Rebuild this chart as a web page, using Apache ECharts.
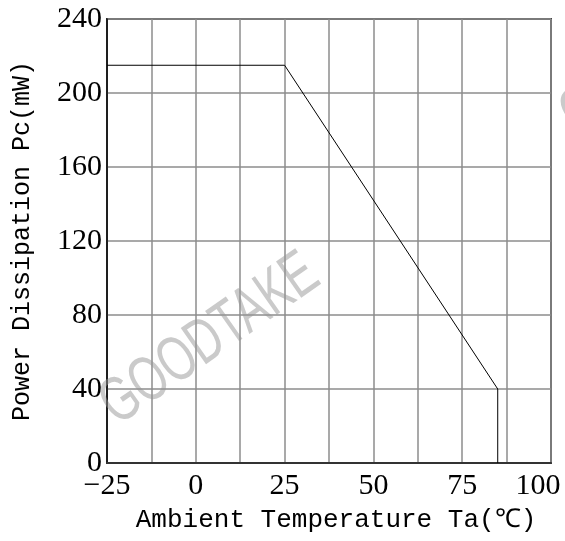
<!DOCTYPE html>
<html>
<head>
<meta charset="utf-8">
<script src="https://cdn.jsdelivr.net/npm/echarts@6/dist/echarts.min.js"></script>
<style>
  html, body { margin: 0; padding: 0; background: #fff; }
  #chart { width: 565px; height: 541px; }
</style>
</head>
<body>
<div id="chart"></div>
<script>
// derating curve
var tempC = [-25, 25, 85, 85];
var powerMw = [215, 215, 40, 0];

var xMin = -25, xMax = 100, xStep = 12.5;
var yMin = 0, yMax = 240, yStep = 40;
var xLabelValues = [-25, 0, 25, 50, 75, 100];

var xTitle = 'Ambient Temperature Ta(\u2103)';
var yTitle = 'Power Dissipation Pc(mW)';

var pts = tempC.map(function (t, i) { return [t, powerMw[i]]; });

var wmStyle = {
    fontFamily: 'Liberation Sans', fontSize: 64,
    fill: 'rgba(150,150,150,0.5)', align: 'center', verticalAlign: 'middle'
};

var chart = echarts.init(document.getElementById('chart'));
chart.setOption({
    animation: false,
    backgroundColor: '#fff',
    grid: {
        left: 107, right: 14, top: 19, bottom: 78,
        show: true, borderColor: '#444', borderWidth: 2
    },
    xAxis: {
        type: 'value',
        min: xMin, max: xMax, interval: xStep,
        name: xTitle,
        nameLocation: 'middle',
        nameGap: 44,
        nameTextStyle: { fontFamily: 'Liberation Mono', fontSize: 26, color: '#000', padding: [0, 0, 0, 14] },
        axisLine: { lineStyle: { color: '#333', width: 2 } },
        axisTick: { show: false },
        axisLabel: {
            fontFamily: 'Liberation Serif', fontSize: 30, color: '#000', margin: 8,
            formatter: function (v) {
                if (xLabelValues.indexOf(v) < 0) return '';
                var s = v < 0 ? '\u2212' + Math.abs(v) : String(v);
                return v === xMax ? '{m|' + s + '}' : s;
            },
            rich: { m: { fontFamily: 'Liberation Serif', fontSize: 30, color: '#000', padding: [0, 26, 0, 0] } }
        },
        splitLine: { show: true, lineStyle: { color: '#8c8c8c', width: 1.5 } }
    },
    yAxis: {
        type: 'value',
        min: yMin, max: yMax, interval: yStep,
        name: yTitle,
        nameLocation: 'middle',
        nameGap: 72,
        nameTextStyle: { fontFamily: 'Liberation Mono', fontSize: 25, color: '#000' },
        axisLine: { show: true, onZero: false, lineStyle: { color: '#000', width: 1.5 } },
        axisTick: { show: false },
        axisLabel: { fontFamily: 'Liberation Serif', fontSize: 30, color: '#000', margin: 5 },
        splitLine: { show: true, lineStyle: { color: '#8c8c8c', width: 1.5 } }
    },
    series: [{
        type: 'line',
        data: pts,
        showSymbol: false,
        lineStyle: { color: '#000', width: 1 },
        z: 3
    }],
    graphic: [
        {
            type: 'text', x: 210, y: 340, rotation: 35 * Math.PI / 180, scaleX: 0.7, z: 10,
            style: Object.assign({ text: 'GOODTAKE' }, wmStyle)
        },
        {
            type: 'text', x: 582, y: 112, rotation: 35 * Math.PI / 180, scaleX: 0.7, z: 10,
            style: Object.assign({ text: 'G' }, wmStyle)
        }
    ]
});
</script>
</body>
</html>
